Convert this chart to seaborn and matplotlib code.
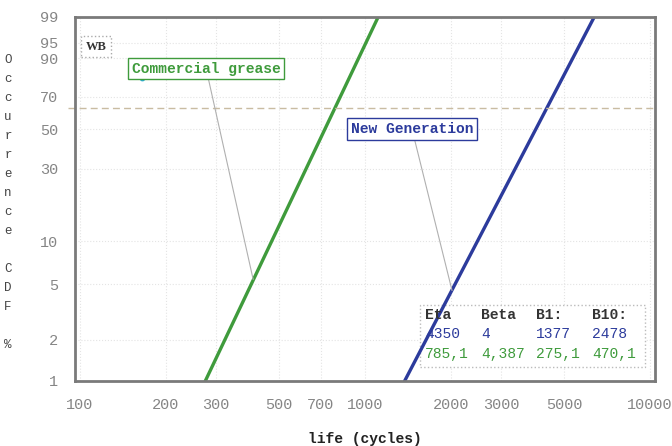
import numpy as np
import pandas as pd
import matplotlib
matplotlib.use("Agg")
import matplotlib.pyplot as plt
from matplotlib.ticker import NullLocator, FixedLocator, FixedFormatter
import seaborn as sns

# Weibull fits (life at 1 % and 99 % unreliability)
green_life = [275.1, 1112]
blue_life = [1377, 6372]
line_cdf = [1, 99]

# stray data point near the top-left
point_life = [165]
point_cdf = [81]

x_ticks = [100, 200, 300, 500, 700, 1000, 2000, 3000, 5000, 10000]
y_ticks = [1, 2, 5, 10, 30, 50, 70, 90, 95, 99]

table_header = ["Eta", "Beta", "B1:", "B10:"]
table_blue = ["4350", "4", "1377", "2478"]
table_green = ["785,1", "4,387", "275,1", "470,1"]

GREEN = "#3f9b3c"
BLUE = "#2c3b9c"
MONO = "Liberation Mono"

df = pd.DataFrame({
    "life": green_life + blue_life,
    "cdf": line_cdf + line_cdf,
    "grease": ["Commercial grease"] * 2 + ["New Generation"] * 2,
})


def weib_fwd(p):
    p = np.clip(np.asarray(p, dtype=float), 1e-6, 100 - 1e-6)
    return np.log(-np.log(1 - p / 100))


def weib_inv(z):
    return 100 * (1 - np.exp(-np.exp(z)))


sns.set_style("white")
plt.rcParams["font.family"] = [MONO, "DejaVu Sans"]

fig = plt.figure(figsize=(6.72, 4.46), dpi=100)
ax = fig.add_axes([75 / 672, 1 - 381 / 446, 580 / 672, 364 / 446])
ax.set_xscale("log")
ax.set_yscale("function", functions=(weib_fwd, weib_inv))

sns.lineplot(data=df, x="life", y="cdf", hue="grease",
             palette={"Commercial grease": GREEN, "New Generation": BLUE},
             lw=2.4, legend=False, ax=ax)
ax.scatter(point_life, point_cdf, s=10, color="#2ab0d8", zorder=3)

ax.set_xlim(96.0, 10412)
ax.set_ylim(1, 99)

ax.xaxis.set_major_locator(FixedLocator(x_ticks))
ax.xaxis.set_major_formatter(FixedFormatter([str(v) for v in x_ticks]))
ax.xaxis.set_minor_locator(NullLocator())
ax.yaxis.set_major_locator(FixedLocator(y_ticks))
ax.yaxis.set_major_formatter(FixedFormatter([str(v) for v in y_ticks]))
ax.yaxis.set_minor_locator(NullLocator())
ax.tick_params(axis="both", length=0, labelsize=11, labelcolor="#858585")
ax.tick_params(axis="x", pad=12)
ax.tick_params(axis="y", pad=12)

ax.grid(True, color="#e4e4e4", ls=":", lw=0.8)
for s in ax.spines.values():
    s.set_color("#7a7a7a")
    s.set_linewidth(2)

# characteristic life line (63.2 %)
ax.axhline(63.2, color="#c9bca2", ls=(0, (5, 3)), lw=1, xmin=-0.012, clip_on=False)

ax.set_ylabel("")
ax.set_xlabel("life (cycles)", fontsize=10.5, fontweight="bold", color="#222", labelpad=15)
fig.text(0.012, 1 - 54 / 446, "O\nc\nc\nu\nr\nr\ne\nn\nc\ne\n\nC\nD\nF\n\n%",
         ha="center", va="top", fontsize=9, color="#444", linespacing=1.78)

ax.text(0.036, 0.918, "WB", transform=ax.transAxes, ha="center", va="center",
        fontsize=9, fontweight="bold", color="#333", family="Liberation Serif",
        bbox=dict(boxstyle="square,pad=0.35", fc="white", ec="#aaaaaa", ls=":"))

ax.annotate("Commercial grease", xy=(405, 5.4), xytext=(0.226, 0.8585),
            textcoords="axes fraction", ha="center", va="center",
            fontsize=10.5, fontweight="bold", color=GREEN,
            bbox=dict(boxstyle="square,pad=0.25", fc="white", ec=GREEN, lw=1),
            arrowprops=dict(arrowstyle="-", color="#b0b0b0", lw=0.8, shrinkA=0, shrinkB=0))
ax.annotate("New Generation", xy=(2020, 4.5), xytext=(0.581, 0.692),
            textcoords="axes fraction", ha="center", va="center",
            fontsize=10.5, fontweight="bold", color=BLUE,
            bbox=dict(boxstyle="square,pad=0.25", fc="white", ec=BLUE, lw=1),
            arrowprops=dict(arrowstyle="-", color="#b0b0b0", lw=0.8, shrinkA=0, shrinkB=0))

# parameter table
box = plt.Rectangle(((420 - 75) / 580, (381 - 367) / 364), 225 / 580, 62 / 364,
                    transform=ax.transAxes, fc="white", ec="#bbbbbb", ls=":", lw=1, zorder=1)
ax.add_patch(box)
col_x = [425, 481, 536, 592]
row_y = [315, 334, 354]
rows = [(table_header, "#333333", "bold"), (table_blue, BLUE, "normal"), (table_green, GREEN, "normal")]
for (cells, col, wt), py in zip(rows, row_y):
    for cell, px in zip(cells, col_x):
        ax.text((px - 75) / 580, (381 - py) / 364, cell, transform=ax.transAxes,
                ha="left", va="center", fontsize=10.5, color=col, fontweight=wt, zorder=2)

fig.savefig("out.png", dpi=100)
